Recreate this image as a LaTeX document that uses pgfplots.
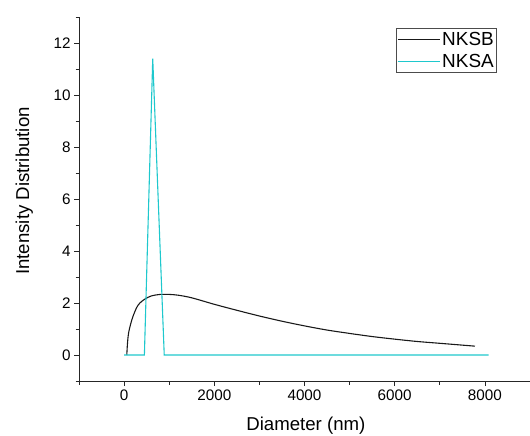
\documentclass[border=0pt]{standalone}
\usepackage{pgfplots}
\pgfplotsset{compat=1.18}
\usepackage{fontspec}
\setmainfont{Liberation Sans}
\definecolor{nksa}{RGB}{30,200,205}
\begin{document}
\begin{tikzpicture}
\begin{axis}[
  scale only axis,
  width=451bp, height=364bp,
  xmin=-1000, xmax=9000, ymin=-1, ymax=13,
  axis x line*=bottom, axis y line*=left,
  axis line style={line width=0.8pt, black!85},
  xtick={0,2000,...,8000}, minor xtick={-1000,1000,...,9000},
  ytick={0,2,...,12}, minor ytick={-1,1,...,13},
  tick align=outside,
  major tick length=5bp, minor tick length=3.5bp,
  tick style={line width=0.8pt, black!85},
  scaled ticks=false,
  xticklabel style={/pgf/number format/.cd, 1000 sep={}, assume math mode=true},
  yticklabel style={/pgf/number format/assume math mode=true},
  ticklabel style={font=\fontsize{15.3}{17}\selectfont},
  label style={font=\fontsize{18.7}{21}\selectfont},
  xlabel={Diameter (nm)},
  ylabel={Intensity Distribution},
  xlabel style={at={(axis description cs:0.503,-0.137)}, anchor=base},
  ylabel style={at={(axis description cs:-0.121,0.522)}, anchor=center},
  legend style={at={(axis description cs:0.927,0.970)}, anchor=north east,
    draw=black!70, line width=0.6pt, font=\fontsize{19}{21}\selectfont,
    inner xsep=1pt, inner ysep=3pt, row sep=5bp,
    nodes={inner xsep=2pt, inner ysep=1pt}},
  legend cell align=left,
  legend image code/.code={\draw[#1, line width=0.9pt] (0bp,0bp) -- (42bp,0bp);},
]
\addplot[black!90, line width=1.1pt, smooth] coordinates {
(60,0) (75,0.45) (100,0.85) (150,1.22) (200,1.5) (280,1.83) (350,2.0) (460,2.15)
(600,2.27) (800,2.33) (1000,2.33) (1200,2.3) (1500,2.2) (2000,1.95) (2500,1.72)
(3000,1.5) (3500,1.3) (4000,1.12) (4500,0.96) (5000,0.83) (5500,0.71) (6000,0.61)
(6500,0.52) (7000,0.45) (7500,0.38) (7780,0.34)};
\addlegendentry{NKSB}
\addplot[nksa, line width=1.1pt] coordinates {
(0,0) (450,0) (635,11.4) (890,0) (8080,0)};
\addlegendentry{NKSA}
\end{axis}
\pgfresetboundingbox
\path ([xshift=-79bp,yshift=-54bp]current axis.south west) rectangle ([yshift=17bp]current axis.north east);
\end{tikzpicture}
\end{document}
